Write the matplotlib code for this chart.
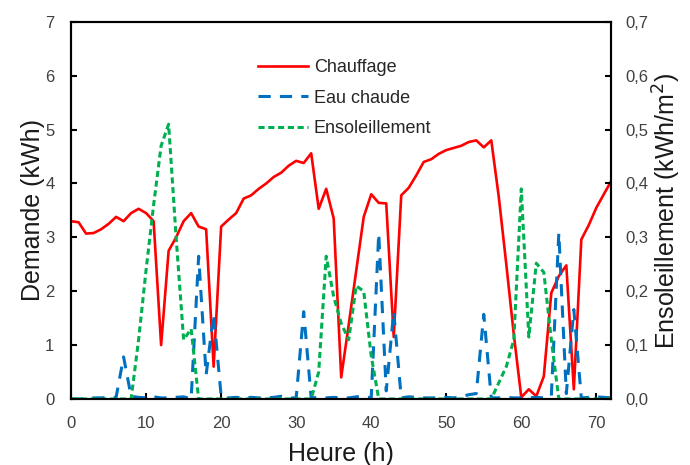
import numpy as np
import matplotlib
matplotlib.use('Agg')
import matplotlib.pyplot as plt
from matplotlib.ticker import FuncFormatter

plt.rcParams['font.family'] = ['Liberation Sans', 'DejaVu Sans']

heures = np.arange(0, 73)

chauffage = [3.3, 3.28, 3.07, 3.08, 3.15, 3.25, 3.38, 3.3, 3.45, 3.53,
             3.45, 3.3, 1.0, 2.75, 3.0, 3.3, 3.45, 3.2, 3.15, 0.6,
             3.2, 3.33, 3.45, 3.72, 3.78, 3.9, 4.0, 4.12, 4.2, 4.33,
             4.42, 4.38, 4.56, 3.53, 3.9, 3.35, 0.4, 1.38, 2.38, 3.38,
             3.8, 3.64, 3.63, 1.15, 3.78, 3.92, 4.15, 4.4, 4.45, 4.55,
             4.62, 4.66, 4.7, 4.77, 4.8, 4.67, 4.8, 3.75, 2.5, 1.2,
             0.03, 0.18, 0.05, 0.42, 1.97, 2.28, 2.48, 0.18, 2.96, 3.23,
             3.55, 3.8, 4.05]

eau_chaude = [0.0, 0.0, 0.0, 0.02, 0.02, 0.03, 0.03, 0.78, 0.05, 0.03,
              0.02, 0.04, 0.02, 0.02, 0.03, 0.04, 0.0, 2.65, 0.45, 1.58,
              0.05, 0.02, 0.03, 0.02, 0.03, 0.02, 0.02, 0.03, 0.05, 0.02,
              0.02, 1.62, 0.02, 0.03, 0.02, 0.03, 0.02, 0.02, 0.04, 0.05,
              0.02, 3.07, 0.15, 1.62, 0.02, 0.04, 0.03, 0.02, 0.02, 0.02,
              0.03, 0.02, 0.04, 0.08, 0.1, 1.57, 0.02, 0.02, 0.03, 0.02,
              0.02, 0.02, 0.03, 0.02, 0.05, 3.08, 0.1, 1.66, 0.02, 0.03,
              0.04, 0.03, 0.02]

# kWh/m2
ensoleillement = [0, 0, 0, 0, 0, 0, 0, 0, 0, 0.11,
                  0.24, 0.36, 0.47, 0.51, 0.30, 0.11, 0.13, 0, 0, 0,
                  0, 0, 0, 0, 0, 0, 0, 0, 0, 0,
                  0, 0, 0, 0.05, 0.265, 0.19, 0.14, 0.11, 0.21, 0.2,
                  0.08, 0, 0, 0, 0, 0, 0, 0, 0, 0,
                  0, 0, 0, 0, 0, 0, 0, 0.03, 0.06, 0.11,
                  0.39, 0.115, 0.252, 0.235, 0.11, 0, 0, 0, 0, 0,
                  0, 0, 0]

fig = plt.figure(figsize=(6.9, 4.65), dpi=100)
ax = fig.add_axes([0.103, 0.142, 0.783, 0.811])
ax2 = ax.twinx()

l1, = ax.plot(heures, chauffage, color='#ff0000', lw=1.9, label='Chauffage')
l2, = ax.plot(heures, eau_chaude, color='#0070c0', lw=2.2, dashes=(4, 3),
              label='Eau chaude')
l3, = ax2.plot(heures, ensoleillement, color='#00b050', lw=2.2, dashes=(2, 1.2),
               label='Ensoleillement')

ax.set_xlim(0, 72)
ax.set_ylim(0, 7)
ax2.set_ylim(0, 0.7)
ax.set_xticks(range(0, 71, 10))
ax.set_yticks(range(0, 8))
ax2.set_yticks(np.arange(0, 0.71, 0.1))
ax2.yaxis.set_major_formatter(FuncFormatter(lambda v, p: f'{v:.1f}'.replace('.', ',')))

for a in (ax, ax2):
    for s in a.spines.values():
        s.set_linewidth(1.5)
    a.tick_params(direction='in', length=4, width=1.5, labelsize=12,
                  labelcolor='#404040', pad=12)
ax2.tick_params(pad=10)

ax.set_xlabel('Heure (h)', fontsize=18, color='#1a1a1a', labelpad=8)
ax.set_ylabel('Demande (kWh)', fontsize=18, color='#1a1a1a', labelpad=0)
ax2.set_ylabel('Ensoleillement (kWh/m$^2$)', fontsize=18, color='#1a1a1a', labelpad=2)

ax.legend(handles=[l1, l2, l3], loc='upper left', bbox_to_anchor=(0.35, 0.908),
          bbox_transform=fig.transFigure, frameon=False, fontsize=13,
          handlelength=2.8, handletextpad=0.3, labelspacing=0.75,
          labelcolor='#262626')

fig.savefig('out.png', dpi=100)
